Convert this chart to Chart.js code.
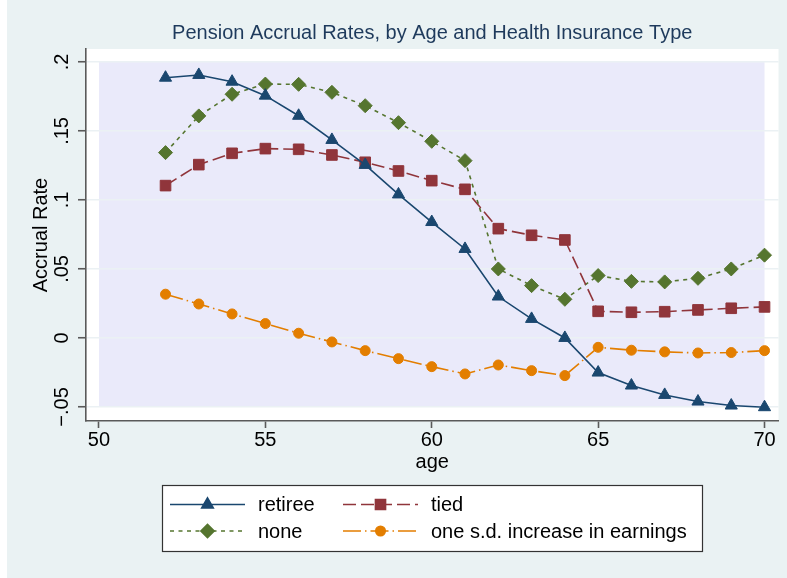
<!DOCTYPE html>
<html>

<head>
    <title>Pension Accrual Rates</title>
    <script src="https://cdn.jsdelivr.net/npm/chart.js"></script>
    <style>
        body { margin: 0; background: #ffffff; }
        .accrual-chart { width: 787px; height: 578px; }
    </style>
</head>

<body>
    <div class="accrual-chart">
        <canvas id="chart"></canvas>
    </div>

    <script type="text/javascript">
        // values
        const ages = [52, 53, 54, 55, 56, 57, 58, 59, 60, 61, 62, 63, 64, 65, 66, 67, 68, 69, 70]
        const retiree = [0.1886, 0.1906, 0.1857, 0.1756, 0.161, 0.1435, 0.1254, 0.104, 0.084, 0.0645, 0.030, 0.0138, 0.0, -0.0251, -0.0345, -0.0413, -0.0461, -0.049, -0.0502]
        const tied = [0.1104, 0.1256, 0.1338, 0.1372, 0.1367, 0.1326, 0.1273, 0.121, 0.114, 0.1077, 0.0792, 0.0744, 0.071, 0.0193, 0.0186, 0.019, 0.0203, 0.0215, 0.0225]
        const none = [0.1343, 0.1609, 0.1766, 0.184, 0.1838, 0.178, 0.1683, 0.156, 0.1425, 0.1285, 0.05, 0.0379, 0.028, 0.0452, 0.041, 0.0406, 0.0432, 0.050, 0.060]
        const earnings = [0.0317, 0.0246, 0.0174, 0.0104, 0.0034, -0.0029, -0.0092, -0.015, -0.0208, -0.0261, -0.0196, -0.0237, -0.0273, -0.0068, -0.0089, -0.0101, -0.0109, -0.0106, -0.0092]
        const xTicks = [50, 55, 60, 65, 70]
        const yTicks = [0.2, 0.15, 0.1, 0.05, 0, -0.05]

        const FONT = '"Liberation Sans", Arial, Helvetica, sans-serif'
        const axisColor = '#5a5a5a'

        function stataLabel(v) {
            if (v === 0) return '0'
            let s = String(Math.abs(v)).replace(/^0/, '')
            return (v < 0 ? '\u2212' : '') + s
        }

        // y labels are rotated and centred; pad so their middle sits ~16px left of the tick
        const mctx = document.createElement('canvas').getContext('2d')
        mctx.font = 'normal 20px ' + FONT
        let widest = 0
        yTicks.forEach(v => { widest = Math.max(widest, mctx.measureText(stataLabel(v)).width) })
        const yLabelPad = 16 - widest / 2

        const backdrop = {
            id: 'backdrop',
            beforeDraw(chart) {
                const {ctx, chartArea: a, scales: {x, y}} = chart
                ctx.save()
                ctx.fillStyle = '#ffffff'
                ctx.fillRect(0, 0, chart.width, chart.height)
                ctx.fillStyle = '#eaf2f3'
                ctx.fillRect(7, 0, chart.width - 7, chart.height)
                ctx.fillStyle = '#ffffff'
                ctx.fillRect(a.left, a.top, a.right - a.left, a.bottom - a.top)
                ctx.fillStyle = '#eaeafa'
                let x0 = x.getPixelForValue(xTicks[0]), x1 = x.getPixelForValue(xTicks[xTicks.length - 1])
                let y0 = y.getPixelForValue(yTicks[0]), y1 = y.getPixelForValue(yTicks[yTicks.length - 1])
                ctx.fillRect(x0, y0, x1 - x0, y1 - y0)
                ctx.restore()
            }
        }

        // Stata style legend: line sample with marker in the middle, two columns
        const stataLegend = {
            id: 'stataLegend',
            afterDraw(chart) {
                const {ctx, chartArea: a} = chart
                const w = 540, h = 66
                const left = Math.round((a.left + a.right) / 2 - w / 2)
                const top = a.bottom + 64
                ctx.save()
                ctx.fillStyle = '#ffffff'
                ctx.fillRect(left, top, w, h)
                ctx.strokeStyle = '#333333'
                ctx.lineWidth = 1.2
                ctx.strokeRect(left + 0.5, top + 0.5, w, h)

                const cols = [8, 181]
                const rows = [19.5, 46]
                chart.data.datasets.forEach((ds, i) => {
                    const sx = left + cols[i % 2]
                    const sy = top + rows[Math.floor(i / 2)]
                    ctx.strokeStyle = ds.borderColor
                    ctx.fillStyle = ds.borderColor
                    ctx.lineWidth = ds.borderWidth
                    ctx.setLineDash(ds.borderDash || [])
                    ctx.beginPath()
                    ctx.moveTo(sx, sy)
                    ctx.lineTo(sx + 75, sy)
                    ctx.stroke()
                    ctx.setLineDash([])
                    Chart.helpers.drawPoint(ctx, {
                        pointStyle: ds.pointStyle,
                        radius: ds.pointRadius * 0.95,
                        borderWidth: ds.pointBorderWidth,
                        rotation: 0
                    }, sx + 37.5, sy)
                    ctx.fillStyle = '#000000'
                    ctx.font = 'normal 20px ' + FONT
                    ctx.textBaseline = 'middle'
                    ctx.textAlign = 'left'
                    ctx.fillText(ds.label, sx + 88, sy + 1)
                })
                ctx.restore()
            }
        }

        function series(label, data, color, dash, style, radius) {
            return {
                label: label,
                data: ages.map((a, i) => ({x: a, y: data[i]})),
                borderColor: color,
                backgroundColor: color,
                borderWidth: 1.6,
                borderDash: dash,
                pointStyle: style,
                pointRadius: radius,
                pointBorderWidth: 1,
                pointBackgroundColor: color,
                pointBorderColor: color,
                tension: 0
            }
        }

        const ctx = document.getElementById('chart')
        let chart = new Chart(ctx, {
            type: 'line',
            data: {
                datasets: [
                    series('retiree', retiree, '#1a476f', [], 'triangle', 7),
                    series('tied', tied, '#90353b', [13, 5], 'rect', 7.5),
                    series('none', none, '#55752f', [4, 4.5], 'rectRot', 7),
                    series('one s.d. increase in earnings', earnings, '#e37e00', [18, 4, 1.5, 4], 'circle', 5)
                ]
            },
            options: {
                responsive: true,
                maintainAspectRatio: false,
                animation: false,
                events: [],
                layout: {padding: {left: 0, right: 7, top: 0, bottom: 100}},
                font: {family: FONT},
                plugins: {
                    legend: {display: false},
                    tooltip: {enabled: false},
                    title: {
                        display: true,
                        text: 'Pension Accrual Rates, by Age and Health Insurance Type',
                        fullSize: false,
                        color: '#1e3a5c',
                        font: {family: FONT, size: 20, weight: 'normal'},
                        padding: {top: 21.5, bottom: 3.5}
                    }
                },
                scales: {
                    x: {
                        type: 'linear',
                        min: 50 - 13 / 33.35,
                        max: 70 + 14 / 33.35,
                        afterBuildTicks: s => { s.ticks = xTicks.map(v => ({value: v})) },
                        afterFit: s => { s.height = 57 },
                        border: {display: true, color: axisColor, width: 1.6},
                        grid: {drawOnChartArea: false, drawTicks: true, tickLength: 7, color: axisColor, tickWidth: 1.6},
                        ticks: {color: '#000', font: {family: FONT, size: 20}, padding: 0, autoSkip: false, maxRotation: 0},
                        title: {display: true, text: 'age', color: '#000', font: {family: FONT, size: 20}, padding: {top: 0, bottom: 4}}
                    },
                    y: {
                        min: -0.0602,
                        max: 0.2094,
                        afterBuildTicks: s => { s.ticks = yTicks.map(v => ({value: v})) },
                        afterFit: s => { s.width = 86 },
                        border: {display: true, color: axisColor, width: 1.6},
                        grid: {color: '#ebf1f4', lineWidth: 1.5, tickColor: axisColor, tickWidth: 1.6, tickLength: 8},
                        ticks: {
                            color: '#000',
                            font: {family: FONT, size: 20},
                            minRotation: 90,
                            maxRotation: 90,
                            crossAlign: 'center',
                            padding: yLabelPad,
                            autoSkip: false,
                            callback: v => stataLabel(v)
                        },
                        title: {display: true, text: 'Accrual Rate', color: '#000', font: {family: FONT, size: 20}, padding: {top: 29, bottom: 0}}
                    }
                }
            },
            plugins: [backdrop, stataLegend]
        })
    </script>
</body>

</html>
